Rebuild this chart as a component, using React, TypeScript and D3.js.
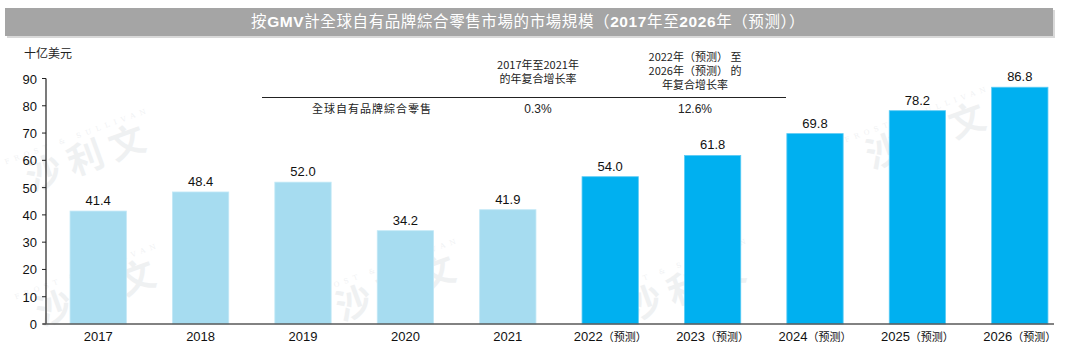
import * as d3 from "d3";

const years = ["2017", "2018", "2019", "2020", "2021", "2022（预测）", "2023（预测）", "2024（预测）", "2025（预测）", "2026（预测）"];
const gmv = [41.4, 48.4, 52.0, 34.2, 41.9, 54.0, 61.8, 69.8, 78.2, 86.8];
const forecastFrom = 5;
const yTicks = [0, 10, 20, 30, 40, 50, 60, 70, 80, 90];

const cagrRowLabel = "全球自有品牌綜合零售";
const cagrValues = ["0.3%", "12.6%"];
const cagrHead1 = ["2017年至2021年", "的年复合增长率"];
const cagrHead2 = ["2022年（预测） 至", "2026年（预测） 的", "年复合增长率"];

const W = 1080;
const H = 352;
const LIGHT = "#a6dcf0";
const DARK = "#00b0f0";
const FONT = "'Liberation Sans', Arial, 'Noto Sans CJK SC', sans-serif";
const CJK = "'Noto Sans CJK TC', 'Noto Sans CJK SC', sans-serif";

// faint company watermarks
const watermarks = [
  { x: 90, y: 170 }, { x: 100, y: 305 }, { x: 400, y: 300 },
  { x: 690, y: 300 }, { x: 930, y: 148 },
];

export default function App() {
  const x = d3.scaleBand<string>().domain(years).range([47, 1071]).paddingInner(0.45).paddingOuter(0.225);
  const y = d3.scaleLinear().domain([0, 90]).range([324, 78.5]);

  return (
    <svg width={W} height={H} style={{ position: "absolute", left: 0, top: 0, background: "#fff" }}>
      {watermarks.map((m, i) => (
        <g key={i} transform={`translate(${m.x},${m.y}) rotate(-20)`} opacity={0.1} fill="#6b7b8c">
          <text fontFamily={CJK} fontWeight={700} fontSize={36} textAnchor="middle">沙 利 文</text>
          <text y={-34} fontFamily="'DejaVu Serif', serif" fontSize={7} letterSpacing={5} textAnchor="middle">FROST &amp; SULLIVAN</text>
        </g>
      ))}

      {/* title bar */}
      <rect x={7} y={10} width={1048} height={28} fill="#d9d9d9" />
      <rect x={5} y={8} width={1048} height={28} fill="#a5a5a5" />
      <text x={528} y={27} fill="#fff" fontFamily={CJK} fontSize={15.5} textAnchor="middle" letterSpacing={0.6}>
        按<tspan fontFamily={FONT} fontWeight={700}>GMV</tspan>計全球自有品牌綜合零售市場的市場規模（<tspan fontFamily={FONT} fontWeight={700}>2017</tspan>年至<tspan fontFamily={FONT} fontWeight={700}>2026</tspan>年（预测））
      </text>

      <text x={24} y={58} fontFamily={CJK} fontSize={12} fill="#222">十亿美元</text>

      {gmv.map((v, i) => (
        <g key={years[i]}>
          <rect x={x(years[i])} y={y(v)} width={x.bandwidth()} height={y(0) - y(v)}
            fill={i < forecastFrom ? LIGHT : DARK} stroke={i < forecastFrom ? "#c2e8f6" : "#5ccbf4"} strokeWidth={0.8} />
          <text x={(x(years[i]) ?? 0) + x.bandwidth() / 2} y={y(v) - 6} textAnchor="middle"
            fontFamily={FONT} fontSize={13} fill="#111">{v.toFixed(1)}</text>
        </g>
      ))}

      {/* y axis */}
      <line x1={46} x2={46} y1={y(90)} y2={y(0)} stroke="#222" strokeWidth={1.2} />
      {yTicks.map((t) => (
        <g key={t}>
          <line x1={42} x2={46} y1={y(t)} y2={y(t)} stroke="#222" />
          <text x={37} y={y(t) + 5} textAnchor="end" fontFamily={FONT} fontSize={13} fill="#111">{t}</text>
        </g>
      ))}

      {/* x axis */}
      <line x1={43} x2={1054} y1={y(0)} y2={y(0)} stroke="#595959" strokeWidth={1.5} />
      {years.map((yr) => {
        const cx = (x(yr) ?? 0) + x.bandwidth() / 2;
        const m = yr.match(/^(\d{4})(.*)$/)!;
        return (
          <text key={yr} x={cx} y={341} textAnchor="middle" fontFamily={FONT} fontSize={13} fill="#111">
            {m[1]}
            {m[2] && <tspan fontFamily={CJK} fontSize={11}>{m[2]}</tspan>}
          </text>
        );
      })}

      {/* CAGR table */}
      {cagrHead1.map((s, i) => (
        <text key={s} x={538} y={69 + i * 14} textAnchor="middle" fontFamily={CJK} fontSize={11} fill="#222">{s}</text>
      ))}
      {cagrHead2.map((s, i) => (
        <text key={s} x={695} y={61 + i * 14} textAnchor="middle" fontFamily={CJK} fontSize={11} fill="#222">{s}</text>
      ))}
      <line x1={262} x2={786} y1={97.5} y2={97.5} stroke="#222" strokeWidth={1.2} />
      <text x={372} y={113} textAnchor="middle" fontFamily={CJK} fontSize={11} fill="#222" letterSpacing={1}>{cagrRowLabel}</text>
      <text x={538} y={113} textAnchor="middle" fontFamily={FONT} fontSize={12} fill="#222">{cagrValues[0]}</text>
      <text x={695} y={113} textAnchor="middle" fontFamily={FONT} fontSize={12} fill="#222">{cagrValues[1]}</text>
    </svg>
  );
}
